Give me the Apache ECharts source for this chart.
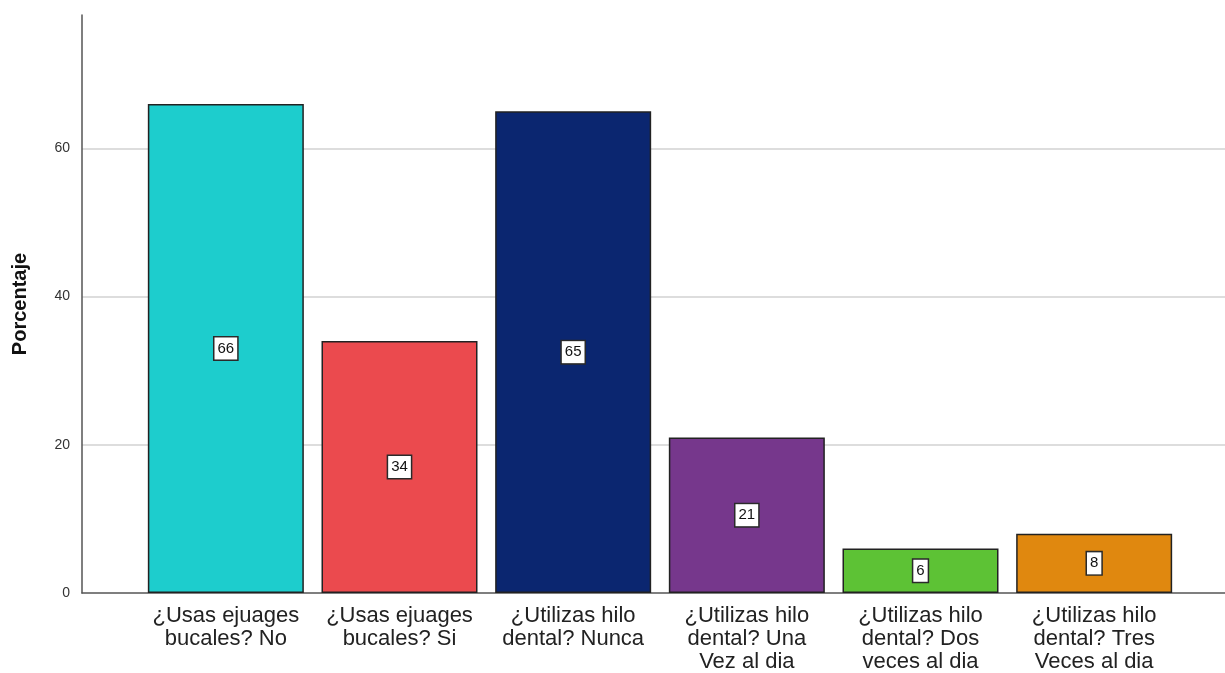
<!DOCTYPE html>
<html>
<head>
<meta charset="utf-8">
<script src="https://cdn.jsdelivr.net/npm/echarts@6/dist/echarts.min.js"></script>
<style>
html,body{margin:0;padding:0;background:#fff;}
#c{width:1225px;height:673px;}
</style>
</head>
<body>
<div id="c"></div>
<script>
const categories = [
  "¿Usas ejuages\nbucales? No",
  "¿Usas ejuages\nbucales? Si",
  "¿Utilizas hilo\ndental? Nunca",
  "¿Utilizas hilo\ndental? Una\nVez al dia",
  "¿Utilizas hilo\ndental? Dos\nveces al dia",
  "¿Utilizas hilo\ndental? Tres\nVeces al dia"
];
const values = [66, 34, 65, 21, 6, 8];
const colors = ["#1DCDCD", "#EB4A4E", "#0B2670", "#76378C", "#5DC235", "#E0880F"];
const yTicks = [0, 20, 40, 60];
const yMax = 78;
const yTitle = "Porcentaje";

const chart = echarts.init(document.getElementById('c'), null, {renderer: 'canvas'});
const font = "'Liberation Sans', Arial, sans-serif";

chart.setOption({
  backgroundColor: '#ffffff',
  animation: false,
  grid: [
    {left: 82, right: 0, top: 15, bottom: 80},
    {left: 139, right: 44, top: 15, bottom: 80}
  ],
  xAxis: [
    {
      gridIndex: 0, type: 'value', min: 0, max: 1,
      axisLine: {show: true, onZero: false, lineStyle: {color: '#555', width: 1.5}},
      axisTick: {show: false}, axisLabel: {show: false}, splitLine: {show: false}
    },
    {
      gridIndex: 1, type: 'category', data: categories,
      axisLine: {show: false}, axisTick: {show: false},
      axisLabel: {
        interval: 0, color: '#222', fontFamily: font, fontSize: 22,
        lineHeight: 23, margin: 11, align: 'center'
      }
    }
  ],
  yAxis: [
    {
      gridIndex: 0, type: 'value', min: 0, max: yMax, interval: 20,
      name: yTitle, nameLocation: 'middle', nameGap: 52, nameRotate: 90,
      nameTextStyle: {fontFamily: font, fontSize: 20, fontWeight: 'bold', color: '#111'},
      axisLine: {show: true, lineStyle: {color: '#555', width: 1.5}},
      axisTick: {show: false},
      axisLabel: {
        customValues: yTicks,
        color: '#333', fontFamily: font, fontSize: 14, margin: 12
      },
      splitLine: {show: true, lineStyle: {color: ['rgba(0,0,0,0)', '#d2d2d2', '#d2d2d2', '#d2d2d2', 'rgba(0,0,0,0)'], width: 1.5}}
    },
    {
      gridIndex: 1, type: 'value', min: 0, max: yMax, interval: 20, show: false,
      splitLine: {show: false}
    }
  ],
  series: [{
    type: 'bar',
    xAxisIndex: 1, yAxisIndex: 1,
    barWidth: 156,
    data: values.map((v, i) => ({value: v, itemStyle: {color: colors[i]}})),
    itemStyle: {borderColor: '#222', borderWidth: 1.5},
    label: {
      show: true, position: 'inside',
      color: '#111', fontFamily: font, fontSize: 15,
      backgroundColor: '#fff', borderColor: '#2a2a2a', borderWidth: 1.5,
      padding: [4, 3, 3, 3]
    }
  }]
});
</script>
</body>
</html>
